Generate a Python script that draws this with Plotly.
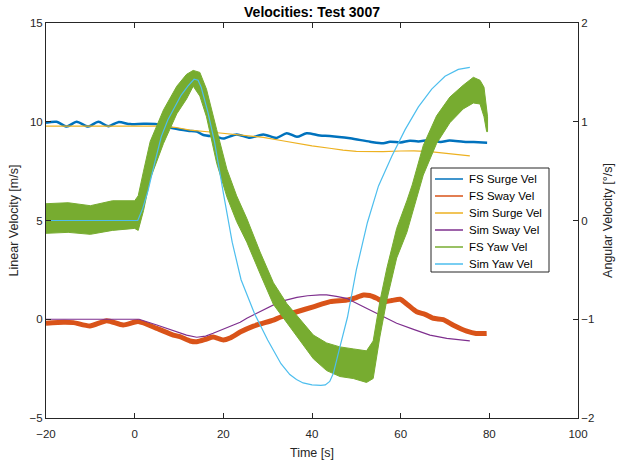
import plotly.graph_objects as go

# ---- data ----
fs_surge_t = [-20, -17.6, -15.3, -13.1, -10.5, -8.2, -5.95, -3.7, -1, 2, 5, 8.7, 12, 14, 15.5, 18.5, 20,
              23, 26, 29, 32, 34.3, 36.6, 38.8, 41.8, 44, 48.6, 53.1, 56.1, 57.6, 60, 62.1, 64, 66.6,
              69, 71, 74.1, 76.5, 79.5]
fs_surge_v = [9.95, 10.0, 9.76, 10.0, 9.76, 10.0, 9.77, 9.98, 9.88, 9.9, 9.88, 9.67, 9.55, 9.5, 9.33, 9.24, 9.15,
              9.36, 9.19, 9.36, 9.18, 9.42, 9.24, 9.42, 9.3, 9.28, 9.16, 8.99, 8.91, 8.99, 8.95, 9.04, 9.0, 9.08,
              8.98, 9.05, 8.99, 8.97, 8.94]

fs_sway_t = [-20, -16, -13.8, -10.1, -6.3, -2.6, 0.8, 5, 8.7, 10.2, 12.5, 14, 16.2, 17.7, 20, 21.5, 23.8,
             26.8, 28.3, 31.3, 32.8, 36.6, 40.3, 44.1, 47.8, 50, 51.6, 53, 54.6, 56.1, 58, 59.9, 61.5,
             63.6, 65.5, 67.4, 69.6, 71.9, 74.9, 77, 79.4]
fs_sway_v = [-0.2, -0.15, -0.17, -0.34, -0.07, -0.29, -0.12, -0.46, -0.8, -0.88, -1.1, -1.14, -1.0, -0.9,
             -1.05, -0.95, -0.65, -0.35, -0.24, -0.04, 0.1, 0.38, 0.63, 0.89, 0.97, 1.1, 1.23, 1.2, 1.06,
             0.89, 0.95, 1.01, 0.75, 0.38, 0.25, 0.05, -0.02, -0.3, -0.6, -0.72, -0.72]

sim_surge_t = [-20, 5, 9, 12.5, 17, 21, 25, 29, 33, 36.6, 40, 44, 47, 50, 53, 56, 60, 63, 66.6, 70.4, 73, 75.6]
sim_surge_v = [9.78, 9.78, 9.72, 9.58, 9.48, 9.38, 9.3, 9.21, 9.05, 8.9, 8.78, 8.66, 8.56, 8.5, 8.48, 8.49,
               8.52, 8.53, 8.49, 8.4, 8.34, 8.27]

sim_sway_t = [-20, 1, 5, 8.7, 11.7, 14, 16, 17.7, 20, 21.5, 23.8, 25.3, 27, 29, 31, 32.8, 36.6, 39, 41.8,
              43.3, 45.5, 47.8, 51.6, 55.3, 59.1, 62.9, 66.6, 70.4, 73, 75.6]
sim_sway_v = [0, 0, -0.29, -0.58, -0.8, -0.91, -0.85, -0.71, -0.5, -0.38, -0.15, 0.05, 0.25, 0.47, 0.7,
              0.89, 1.11, 1.19, 1.23, 1.23, 1.16, 1.06, 0.63, 0.2, -0.2, -0.51, -0.8, -0.97, -1.04, -1.09]

# FS yaw: noisy band, upper and lower envelopes
fs_yaw_t = [-20, -15, -10, -5, 0, 0.8, 2, 3.5, 6.5, 9.5, 11.7, 13.2, 14.7, 16.2, 18.5, 20.8, 23, 25.3,
            28.3, 31.3, 34.3, 37.3, 40.3, 43.3, 46.3, 49.3, 52.3, 53.8, 55.3, 56.9, 59.1, 61.4, 62.6,
            65.1, 68.1, 71.1, 74.1, 76.4, 77.9, 78.8, 79.4, 79.6]
fs_yaw_hi = [0.17, 0.18, 0.15, 0.2, 0.2, 0.25, 0.5, 0.8, 1.12, 1.36, 1.48, 1.52, 1.5, 1.33, 0.92, 0.52,
             0.25, 0.02, -0.32, -0.63, -0.84, -1.0, -1.16, -1.24, -1.28, -1.3, -1.32, -1.22, -0.82, -0.48,
             -0.08, 0.2, 0.36, 0.76, 1.06, 1.25, 1.37, 1.45, 1.42, 1.35, 1.15, 1.05]
fs_yaw_lo = [-0.13, -0.12, -0.14, -0.1, -0.08, -0.1, 0.1, 0.42, 0.78, 1.08, 1.23, 1.36, 1.26, 1.05, 0.58,
             0.24, -0.01, -0.22, -0.54, -0.85, -1.04, -1.22, -1.40, -1.52, -1.58, -1.6, -1.64, -1.6, -1.18,
             -0.8, -0.38, -0.12, 0.06, 0.46, 0.78, 0.99, 1.13, 1.19, 1.18, 1.05, 0.9, 0.9]

sim_yaw_t = [-20, 0.7, 1.8, 3, 4.5, 6, 7.5, 9, 10.5, 12, 13.4, 14.3, 15, 16.5, 18, 20, 22, 24, 27, 30, 33,
             35, 36.5, 38, 40, 42, 43, 44, 44.8, 46.3, 48, 50, 52.5, 55, 58, 61, 64, 67, 70, 73, 75.6]
sim_yaw_w = [0, 0, 0.12, 0.3, 0.58, 0.85, 1.02, 1.15, 1.27, 1.36, 1.43, 1.42, 1.35, 1.1, 0.8, 0.28, -0.22,
             -0.6, -0.94, -1.21, -1.45, -1.56, -1.61, -1.645, -1.665, -1.67, -1.665, -1.63, -1.55, -1.28,
             -0.98, -0.5, -0.02, 0.35, 0.65, 0.92, 1.15, 1.33, 1.46, 1.53, 1.55]

names = ["FS Surge Vel", "FS Sway Vel", "Sim Surge Vel", "Sim Sway Vel", "FS Yaw Vel", "Sim Yaw Vel"]
colors = ["#0072BD", "#D95319", "#EDB120", "#7E2F8E", "#77AC30", "#4DBEEE"]

fig = go.Figure()

# left axis
fig.add_trace(go.Scatter(x=fs_surge_t, y=fs_surge_v, mode="lines",
                         line=dict(color=colors[0], width=2.5, shape="spline", smoothing=0.8),
                         name=names[0], showlegend=False, yaxis="y"))
fig.add_trace(go.Scatter(x=fs_sway_t, y=fs_sway_v, mode="lines",
                         line=dict(color=colors[1], width=5, shape="spline", smoothing=0.6),
                         name=names[1], showlegend=False, yaxis="y"))
fig.add_trace(go.Scatter(x=sim_surge_t, y=sim_surge_v, mode="lines", line=dict(color=colors[2], width=1.2),
                         name=names[2], showlegend=False, yaxis="y"))
fig.add_trace(go.Scatter(x=sim_sway_t, y=sim_sway_v, mode="lines", line=dict(color=colors[3], width=1.2),
                         name=names[3], showlegend=False, yaxis="y"))
# right axis
fig.add_trace(go.Scatter(x=fs_yaw_t + fs_yaw_t[::-1], y=fs_yaw_hi + fs_yaw_lo[::-1], mode="lines",
                         fill="toself", fillcolor=colors[4], line=dict(color=colors[4], width=1),
                         name=names[4], showlegend=False, yaxis="y2"))
fig.add_trace(go.Scatter(x=sim_yaw_t, y=sim_yaw_w, mode="lines", line=dict(color=colors[5], width=1.2),
                         name=names[5], showlegend=False, yaxis="y2"))

axcol = "#262626"
font = "Liberation Sans, Arial, sans-serif"

# plot-area geometry in pixels (for the hand-drawn MATLAB-style legend)
L, R, T, B = 46, 578, 23, 418


def px(x):
    return (x - L) / (R - L)


def py(y):
    return 1 - (y - T) / (B - T)


shapes = [dict(type="rect", xref="paper", yref="paper", x0=px(431), x1=px(549), y0=py(272), y1=py(168),
               line=dict(color=axcol, width=1), fillcolor="white", layer="above")]
annotations = []
for i, (n, c) in enumerate(zip(names, colors)):
    yy = 179 + 17 * i
    shapes.append(dict(type="line", xref="paper", yref="paper", x0=px(435), x1=px(463), y0=py(yy), y1=py(yy),
                       line=dict(color=c, width=1.5), layer="above"))
    annotations.append(dict(text=n, xref="paper", yref="paper", x=px(467), y=py(yy), xanchor="left",
                            yanchor="middle", showarrow=False, font=dict(size=11.5, color="black")))

fig.update_layout(
    width=619, height=465,
    margin=dict(l=L, r=619 - R, t=T, b=465 - B, autoexpand=False),
    paper_bgcolor="white", plot_bgcolor="white",
    font=dict(family=font, size=11.5, color=axcol),
    title=dict(text="<b>Velocities: Test 3007</b>", x=0.5, xref="paper", y=1 - 12 / 465, yref="container",
               yanchor="middle", xanchor="center", font=dict(size=14, color="black")),
    xaxis=dict(range=[-20, 100], tickvals=[-20, 0, 20, 40, 60, 80, 100], ticks="inside", ticklen=5,
               tickcolor=axcol, showline=True, linecolor=axcol, linewidth=1, mirror="ticks",
               showgrid=False, zeroline=False, automargin=False, ticklabelstandoff=5,
               title=dict(text="Time [s]", standoff=9, font=dict(size=12.5))),
    yaxis=dict(range=[-5, 15], tickvals=[-5, 0, 5, 10, 15], ticks="inside", ticklen=5, tickcolor=axcol,
               showline=True, linecolor=axcol, linewidth=1, showgrid=False, zeroline=False, automargin=False,
               title=dict(text="Linear Velocity [m/s]", standoff=8, font=dict(size=12.5))),
    yaxis2=dict(range=[-2, 2], tickvals=[-2, -1, 0, 1, 2], overlaying="y", side="right", ticks="inside",
                ticklen=5, tickcolor=axcol, showline=True, linecolor=axcol, linewidth=1, showgrid=False,
                zeroline=False, automargin=False,
                title=dict(text="Angular Velocity [°/s]", standoff=9, font=dict(size=12.5))),
    shapes=shapes,
    annotations=annotations,
    showlegend=False,
)

fig.write_html("out.html", config={"displayModeBar": False},
               post_script="document.body.style.margin='0';")
